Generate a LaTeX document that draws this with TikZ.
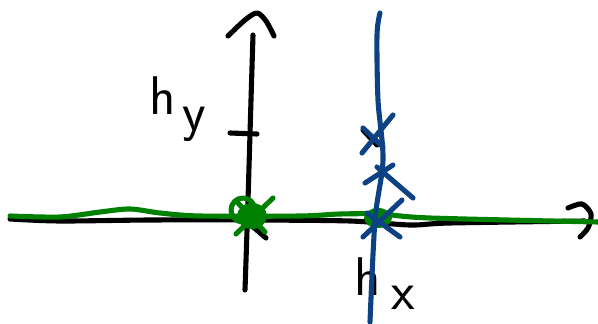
\documentclass[tikz,border=0pt]{standalone}
\usetikzlibrary{positioning}
\definecolor{penblue}{RGB}{12,66,132}
\definecolor{pengreen}{RGB}{0,128,0}

\begin{document}
\begin{tikzpicture}[x=0.02cm, y=-0.02cm,
  pen/.style={line width=2.9pt, line cap=round, line join=round},
  handtext/.style={font=\sffamily\fontsize{31}{31}\selectfont, inner sep=0pt, anchor=base west}]
\useasboundingbox (0,0) rectangle (598,324);

% Draw axes
\draw[pen] plot[smooth] coordinates {(10,219) (60,221) (150,220) (250,220) (350,221) (410,225) (450,223) (585,221)};
\draw[pen] plot[smooth] coordinates {(568,208) (582,204) (591,214) (588,228) (580,237)};
\draw[pen] plot[smooth] coordinates {(253,35) (251,100) (248,200) (245,290)};
\draw[pen] plot[smooth] coordinates {(228,36) (245,20) (257,13) (266,21) (274,36)};
% Tick mark and stray strokes
\draw[pen] (230,133) -- (257,134);
\draw[pen] (252,226) -- (266,238);
\draw[pen] (363,130) -- (377,145);

% Labels
\node[handtext] (hy) at (149,115) {h\hspace{4pt}\raisebox{-9pt}{y}};
\node[handtext] (hx) at (354,295) {h\hspace{6pt}\raisebox{-8.5pt}{x}};

% Green line and points
\draw[pen, pengreen] plot[smooth] coordinates {(10,216) (60,217) (100,212) (130,209) (160,213) (200,216) (300,216) (340,214) (380,214) (430,218) (598,222)};
\fill[pengreen] (252,216) ellipse (15 and 13);
\draw[pen, pengreen] (243,210) ellipse (12 and 12);
\draw[pen, pengreen] (236,234) -- (273,198);
\draw[pen, pengreen] (237,202) -- (265,232);
\fill[pengreen] (378,218) ellipse (14 and 10);

% Blue line and crosses
\draw[pen, penblue] plot[smooth] coordinates {(380,13) (377,35) (378,100) (383,160) (375,220) (370,322)};
\draw[pen, penblue] (363,128) -- (383,147);
\draw[pen, penblue] (362,153) -- (393,115);
\draw[pen, penblue] (365,183) -- (393,165);
\draw[pen, penblue] (377,167) -- (413,198);
\draw[pen, penblue] (363,237) -- (402,200);
\draw[pen, penblue] (367,213) -- (400,237);
\end{tikzpicture}
\end{document}
